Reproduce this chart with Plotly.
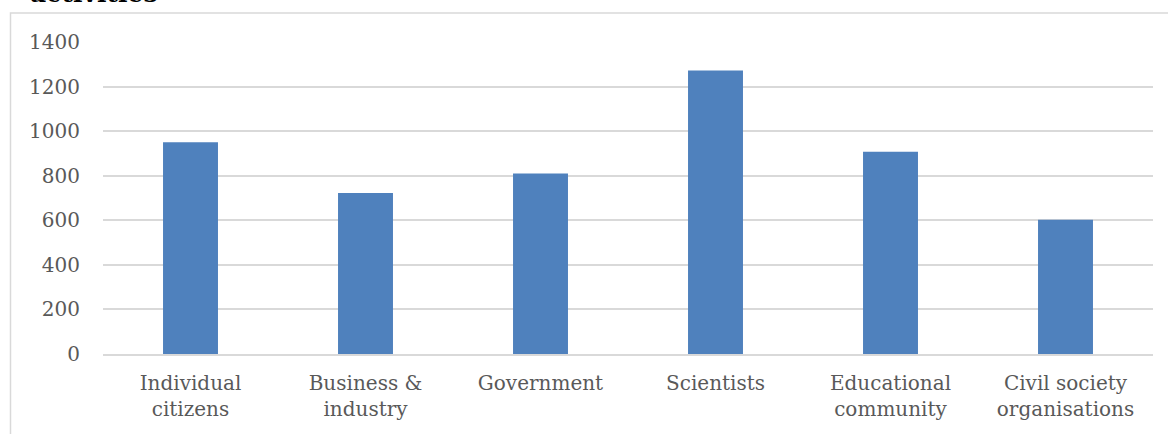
import plotly.graph_objects as go

categories = ["Individual<br>citizens", "Business &<br>industry", "Government",
              "Scientists", "Educational<br>community", "Civil society<br>organisations"]
values = [950, 722, 810, 1272, 908, 602]
y_ticks = [0, 200, 400, 600, 800, 1000, 1200, 1400]

W, H = 1168, 434
L, R, T, B = 103, 15, 42, 80
pw, ph = W - L - R, H - T - B

fig = go.Figure(go.Bar(x=categories, y=values, marker=dict(color="#4f81bd", line=dict(width=0))))

font_family = "DejaVu Serif"
fig.update_layout(
    width=W, height=H,
    margin=dict(l=L, r=R, t=T, b=B, pad=0),
    paper_bgcolor="white", plot_bgcolor="white",
    bargap=0.686,
    showlegend=False,
    font=dict(family=font_family, size=20, color="#595959"),
)
fig.update_yaxes(
    range=[0, 1400], tickvals=y_ticks, showgrid=True, gridcolor="#d9d9d9", gridwidth=1.5,
    zeroline=False, showline=False, ticks="", ticklabelstandoff=22,
    tickfont=dict(family=font_family, size=20, color="#595959"),
)
fig.update_xaxes(
    showline=True, linecolor="#d9d9d9", linewidth=1.5, ticks="", showgrid=False,
    tickfont=dict(family=font_family, size=20, color="#595959"),
    ticklabelstandoff=10,
)

# outer chart border (cut by the page edge)
fig.add_shape(type="rect", xref="paper", yref="paper",
              x0=(10.5 - L) / pw, x1=(W + 20 - L) / pw,
              y0=-(B + 20) / ph, y1=1 + (T - 13) / ph,
              line=dict(color="#d9d9d9", width=1.5), fillcolor="rgba(0,0,0,0)", layer="below")

# partially visible title
fig.add_annotation(text="<b>activities</b>", xref="paper", yref="paper",
                   x=(28 - L) / pw, y=1 + (T - 10) / ph, xanchor="left", yanchor="bottom",
                   showarrow=False, font=dict(family="DejaVu Serif", size=25, color="black"))

fig.write_html("out.html")
